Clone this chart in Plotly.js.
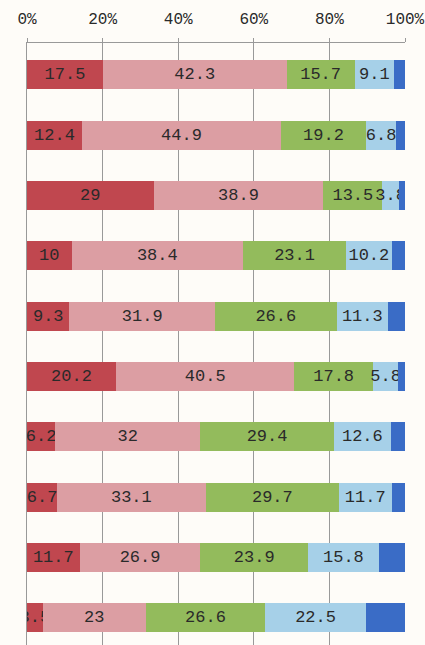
<!DOCTYPE html>
<html>
<head>
<meta charset="utf-8">
<script src="https://cdn.plot.ly/plotly-3.0.1.min.js"></script>
<style>
html,body{margin:0;padding:0;background:#fefcf8;}
#chart{width:425px;height:645px;}
</style>
</head>
<body>
<div id="chart"></div>
<script>
// Rows, top to bottom
const categories = ['1','2','3','4','5','6','7','8','9','10'];
// Raw values (bars are normalised to 100%)
const seriesA = [17.5, 12.4, 29, 10, 9.3, 20.2, 6.2, 6.7, 11.7, 3.5];      // dark red
const seriesB = [42.3, 44.9, 38.9, 38.4, 31.9, 40.5, 32, 33.1, 26.9, 23];  // pink
const seriesC = [15.7, 19.2, 13.5, 23.1, 26.6, 17.8, 29.4, 29.7, 23.9, 26.6]; // green
const seriesD = [9.1, 6.8, 3.8, 10.2, 11.3, 5.8, 12.6, 11.7, 15.8, 22.5];  // light blue
const seriesE = [2.5, 2.0, 1.4, 3.0, 3.7, 1.5, 3.1, 3.0, 5.8, 8.7];         // blue (unlabelled, estimated)
const tickVals = [0, 20, 40, 60, 80, 100];
const tickText = ['0%', '20%', '40%', '60%', '80%', '100%'];

const colors = ['#c0474f', '#dc9ea3', '#93bb5c', '#a6d0e8', '#3a6cc6'];
const allSeries = [seriesA, seriesB, seriesC, seriesD, seriesE];
const showLabel = [true, true, true, true, false];

const FONT = '"Liberation Mono", "DejaVu Sans Mono", monospace';

const traces = allSeries.map((s, i) => ({
  type: 'bar',
  orientation: 'h',
  y: categories,
  x: s,
  width: 0.48,
  marker: {color: colors[i], line: {width: 0}},
  text: showLabel[i] ? s.map(v => String(v)) : s.map(() => ''),
  textposition: 'inside',
  insidetextanchor: 'middle',
  textangle: 0,
  textfont: {family: FONT, size: 17, color: '#2a2a2a'},
  hoverinfo: 'skip',
  showlegend: false
}));

const layout = {
  width: 425,
  height: 645,
  paper_bgcolor: '#fefcf8',
  plot_bgcolor: '#fefcf8',
  barmode: 'stack',
  barnorm: 'percent',
  margin: {l: 27, r: 20, t: 43, b: 0},
  uniformtext: {mode: 'show', minsize: 17},
  xaxis: {
    side: 'top',
    range: [0, 100],
    tickvals: tickVals,
    ticktext: tickText,
    showgrid: true,
    gridcolor: '#999999',
    gridwidth: 1,
    zeroline: false,
    showline: true,
    linecolor: '#999999',
    linewidth: 1,
    ticks: 'outside',
    ticklen: 4,
    tickcolor: '#999999',
    ticklabelstandoff: 8,
    tickfont: {family: FONT, size: 16, color: '#2a2a2a'},
    fixedrange: true
  },
  yaxis: {
    type: 'category',
    range: [9.45, -0.53],
    showticklabels: false,
    ticks: '',
    showgrid: false,
    zeroline: false,
    showline: true,
    linecolor: '#999999',
    linewidth: 1,
    fixedrange: true
  }
};

Plotly.newPlot('chart', traces, layout, {displayModeBar: false, staticPlot: true});
</script>
</body>
</html>
